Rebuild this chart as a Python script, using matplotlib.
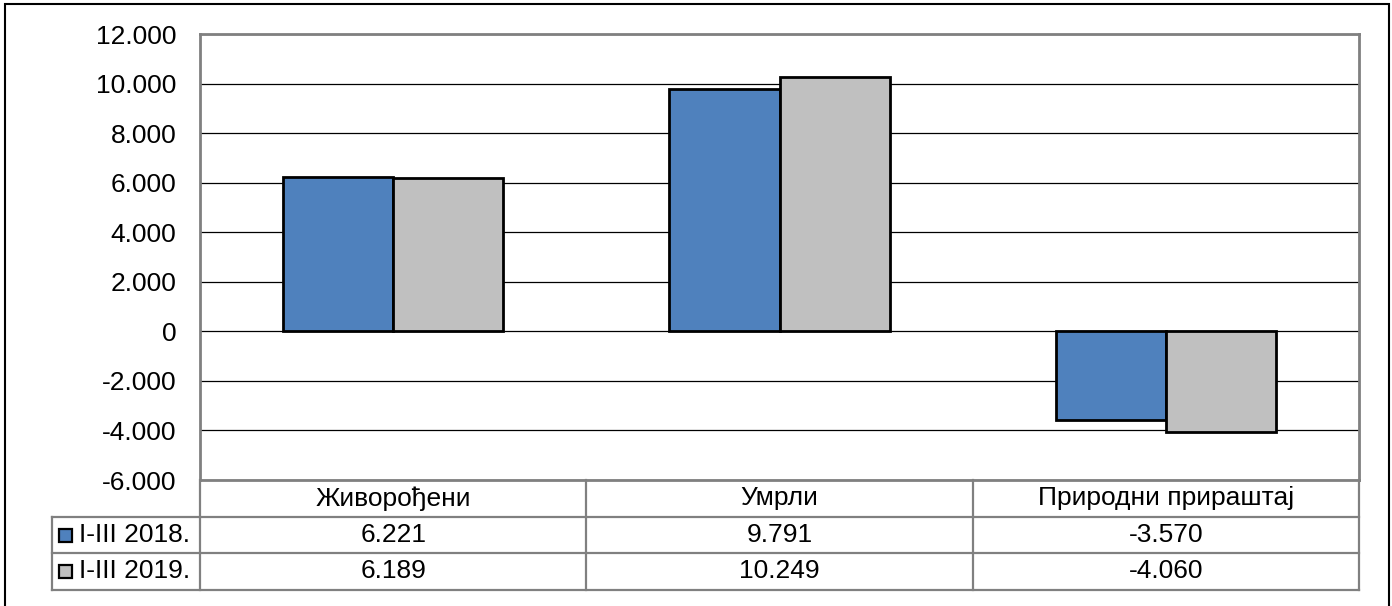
import numpy as np
import matplotlib.pyplot as plt
from matplotlib.patches import Rectangle
from matplotlib.ticker import FuncFormatter
import matplotlib.transforms as mtransforms

#-------------------------------------------------------------
# data
#-------------------------------------------------------------
categories = ["Живорођени", "Умрли", "Природни прираштај"]
series_names = ["I-III 2018.", "I-III 2019."]
values_2018 = [6221, 9791, -3570]
values_2019 = [6189, 10249, -4060]
yticks = [-6000, -4000, -2000, 0, 2000, 4000, 6000, 8000, 10000, 12000]

colors = ["#4F81BD", "#C0C0C0"]
grid_col = "#808080"

plt.rcParams['font.family'] = ['Liberation Sans', 'DejaVu Sans']
fs = 19

W, H = 1392, 606
fig = plt.figure(figsize=(W / 100, H / 100), dpi=100)
ax = fig.add_axes([200 / W, 1 - 480 / H, 1159 / W, 446 / H])

x = np.arange(len(categories))
bw = 0.285
ax.bar(x - bw / 2, values_2018, bw, color=colors[0], edgecolor="black", linewidth=2, zorder=3)
ax.bar(x + bw / 2, values_2019, bw, color=colors[1], edgecolor="black", linewidth=2, zorder=3)

ax.set_xlim(-0.5, len(categories) - 0.5)
ax.set_ylim(yticks[0], yticks[-1])
ax.set_yticks(yticks)
ax.yaxis.set_major_formatter(FuncFormatter(lambda v, p: f"{int(v):,}".replace(",", ".")))
ax.tick_params(axis="y", length=0, pad=17, labelsize=fs)
ax.set_xticks([])
ax.grid(axis="y", color="black", linewidth=0.9, zorder=1)
for s in ax.spines.values():
    s.set_color(grid_col)
    s.set_linewidth(2)

#-------------------------------------------------------------
# data table under the plot
#-------------------------------------------------------------
trans = mtransforms.blended_transform_factory(ax.transData, ax.transAxes)
px = 1 / 446.0
row_y = [0, -37 * px, -73 * px, -110 * px]
x_left = -0.5 - 148 / 386.0
x_right = len(categories) - 0.5
lkw = dict(color=grid_col, linewidth=1.6, transform=trans, clip_on=False)

for yy in row_y[1:]:
    ax.plot([x_left, x_right], [yy, yy], **lkw)
ax.plot([x_left, x_left], [row_y[1], row_y[3]], **lkw)
for xx in np.arange(len(categories) + 1) - 0.5:
    ax.plot([xx, xx], [0, row_y[3]], **lkw)

for i, c in enumerate(categories):
    ax.text(i, (row_y[0] + row_y[1]) / 2, c, ha="center", va="center",
            fontsize=fs, transform=trans, clip_on=False)

fmt = lambda v: f"{v:,}".replace(",", ".")
for r, (name, vals) in enumerate(zip(series_names, [values_2018, values_2019])):
    yc = (row_y[r + 1] + row_y[r + 2]) / 2
    for i, v in enumerate(vals):
        ax.text(i, yc, fmt(v), ha="center", va="center", fontsize=fs,
                transform=trans, clip_on=False)
    # legend key
    key = Rectangle((x_left + 7 / 386.0, yc - 6.5 * px), 13 / 386.0, 13 * px,
                    facecolor=colors[r], edgecolor="black", linewidth=1.6,
                    transform=trans, clip_on=False)
    ax.add_patch(key)
    ax.text(x_left + 27 / 386.0, yc, name, ha="left", va="center", fontsize=fs,
            transform=trans, clip_on=False)

# outer chart border
fig.patches.append(Rectangle((5 / W, -0.05), 1384 / W, 1.05 - 4 / H, fill=False,
                             edgecolor="black", linewidth=1.5, transform=fig.transFigure))

plt.savefig("out.png", dpi=100)
